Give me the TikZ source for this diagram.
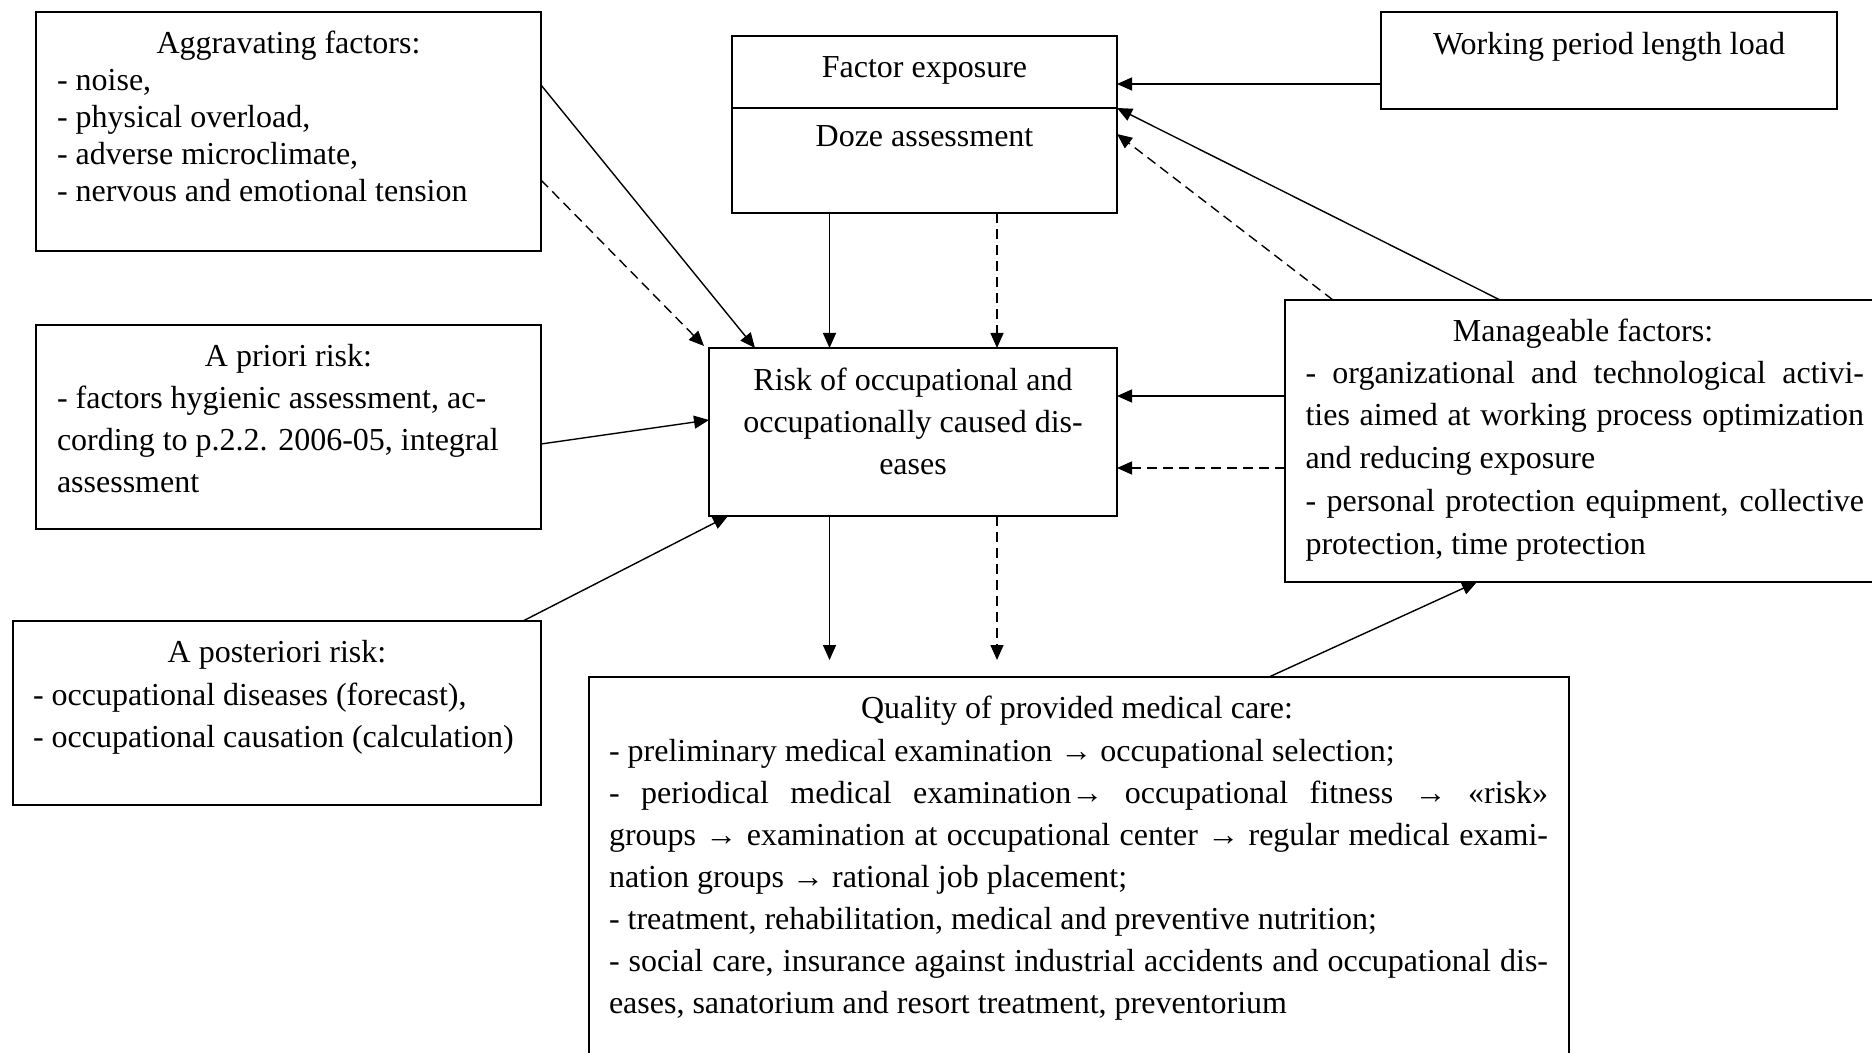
\documentclass[tikz,border=0pt]{standalone}
\usepackage{fontspec}
\setmainfont{Liberation Serif}
\usetikzlibrary{arrows.meta,calc}
\newcommand\jman[1]{\makebox[279.25pt][s]{#1}}
\newcommand\jqual[1]{\makebox[469.5pt][s]{#1}}
\begin{document}
\begin{tikzpicture}[x=0.5pt,y=-0.5pt,
  box/.style={draw, line width=0.8pt, inner sep=0pt, outer sep=0pt, anchor=north west},
  txt/.style={inner sep=0pt, outer sep=0pt, font=\fontsize{16}{21}\selectfont},
  conn/.style={line width=0.7pt, -{Triangle[length=7.5pt,width=6.5pt]}},
  dsh/.style={conn, dash pattern=on 5pt off 3pt}]
\useasboundingbox (0,0) rectangle (1872,1053);
\clip (0,0) rectangle (1872,1053);
% boxes
\node[box, minimum width=252.5pt, minimum height=119.5pt] (agg) at (36,12) {};
\node[box, minimum width=252.5pt, minimum height=102pt] (apr) at (36,325) {};
\node[box, minimum width=264pt, minimum height=92pt] (post) at (13,621) {};
\node[box, minimum width=192.5pt, minimum height=88.5pt] (fac) at (732,36) {};
\node[box, minimum width=204pt, minimum height=84pt] (risk) at (709,348) {};
\node[box, minimum width=228pt, minimum height=48.5pt] (work) at (1381,12) {};
\node[box, minimum width=300pt, minimum height=141pt] (man) at (1285,300) {};
\node[box, minimum width=490pt, minimum height=200pt] (qual) at (589,677) {};
\draw[line width=0.8pt] ($(fac.north west)+(0,72)$) -- ($(fac.north east)+(0,72)$);
% texts (multi-line nodes: base = last line's baseline)
\node[txt, anchor=base] (aggT) at (288.5,54) {Aggravating factors:};
\node[txt, anchor=base west, align=left, font=\fontsize{16}{18.5}\selectfont] (aggL) at (57,202)
  {- noise,\\- physical overload,\\- adverse microclimate,\\- nervous and emotional tension};
\node[txt, anchor=base] (aprT) at (288.5,366) {A priori risk:};
\node[txt, anchor=base west, align=left] (aprL) at (57,492)
  {- factors hygienic assessment, ac-\\cording to p.2.2. 2006-05, integral\\assessment};
\node[txt, anchor=base] (postT) at (277,662) {A posteriori risk:};
\node[txt, anchor=base west, align=left] (postL) at (33,747)
  {- occupational diseases (forecast),\\- occupational causation (calculation)};
\node[txt, anchor=base] (facT) at (924.5,78) {Factor exposure};
\node[txt, anchor=base] (dozT) at (924.5,146.5) {Doze assessment};
\node[txt, anchor=base, align=center] (riskT) at (913,474)
  {Risk of occupational and\\occupationally caused dis-\\eases};
\node[txt, anchor=base] (workT) at (1609,55) {Working period length load};
\node[txt, anchor=base] (manT) at (1583,341.5) {Manageable factors:};
\node[txt, anchor=base west, align=left, font=\fontsize{16}{21.35}\selectfont] (manL) at (1305.5,554)
  {\jman{- organizational and technological activi-}\\
   \jman{ties aimed at working process optimization}\\
   and reducing exposure\\
   \jman{- personal protection equipment, collective}\\
   protection, time protection};
\node[txt, anchor=base] (qualT) at (1077,718.5) {Quality of provided medical care:};
\node[txt, anchor=base west, align=left] (qualL) at (609,1013.5)
  {- preliminary medical examination → occupational selection;\\
   \jqual{- periodical medical examination→ occupational fitness → «risk»}\\
   \jqual{groups → examination at occupational center → regular medical exami-}\\
   nation groups → rational job placement;\\
   - treatment, rehabilitation, medical and preventive nutrition;\\
   \jqual{- social care, insurance against industrial accidents and occupational dis-}\\
   eases, sanatorium and resort treatment, preventorium};
% free ends
\coordinate (o1) at ($(risk.south west)+(120.5,144)$);
\coordinate (o2) at ($(risk.south west)+(288,144)$);
% connectors
\draw[conn] ($(work.north west)+(0,72)$) -- ($(fac.north east)+(0,48)$);
\draw[conn] ($(man.north west)+(215,0)$) -- ($(fac.north east)+(0,72)$);
\draw[dsh] ($(man.north west)+(48,0)$) -- ($(fac.north east)+(0,98)$);
\draw[conn] ($(fac.south west)+(97.5,0)$) -- ($(risk.north west)+(120.5,0)$);
\draw[dsh] ($(fac.south west)+(265,0)$) -- ($(risk.north west)+(288,0)$);
\draw[conn] ($(agg.north east)+(0,73)$) -- ($(risk.north west)+(46,0)$);
\draw[dsh] ($(agg.north east)+(0,168)$) -- ($(risk.north west)+(-5,-2)$);
\draw[conn] ($(apr.north east)+(0,119)$) -- ($(risk.north west)+(0,72)$);
\draw[conn] ($(post.north east)+(-18,0)$) -- ($(risk.south west)+(19,0)$);
\draw[conn] ($(man.north west)+(0,96)$) -- ($(risk.north east)+(0,48)$);
\draw[dsh] ($(man.north west)+(0,168)$) -- ($(risk.north east)+(0,120)$);
\draw[conn] ($(risk.south west)+(120.5,0)$) -- (o1);
\draw[dsh] ($(risk.south west)+(288,0)$) -- (o2);
\draw[conn] ($(qual.north west)+(680,0)$) -- ($(man.south west)+(192,0)$);
\end{tikzpicture}
\end{document}
